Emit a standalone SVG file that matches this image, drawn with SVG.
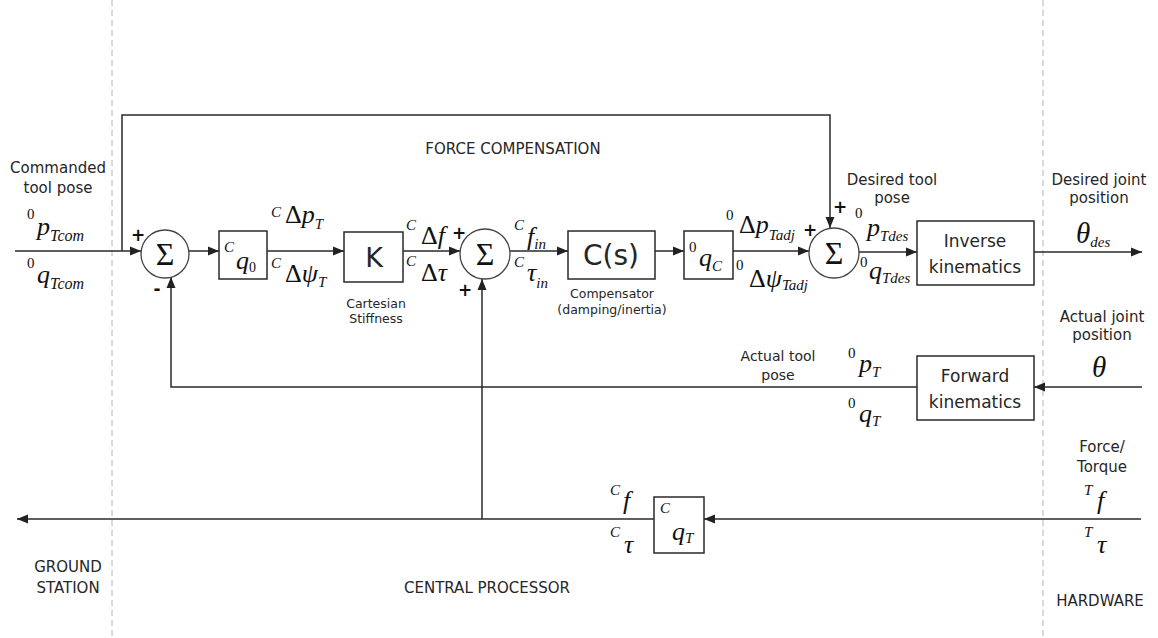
<svg xmlns="http://www.w3.org/2000/svg" width="1158" height="638" viewBox="0 0 1158 638">
<defs>
<marker id="ah" markerUnits="userSpaceOnUse" markerWidth="11" markerHeight="10" refX="11" refY="5" orient="auto">
<path d="M0,0.5 L11,5 L0,9.5 z" fill="#222"/>
</marker>
<style>
.ln{stroke:#2a2a2a;stroke-width:1.5;fill:none}
.box{fill:#fff;stroke:#2a2a2a;stroke-width:1.5}
.sum{fill:#fff;stroke:#444;stroke-width:1.3}
.dash{stroke:#b4b4b4;stroke-width:1;stroke-dasharray:6 4}
.lbl{font-family:"DejaVu Sans","Liberation Sans",sans-serif;font-size:15px;fill:#262626;text-anchor:middle}
.sm{font-size:12.5px}
.blk{font-size:17px}
.big{font-size:28px}
.m{font-family:"Liberation Serif",serif;font-style:italic;font-size:26px;fill:#111}
.th{font-size:29px}
.up{font-style:normal}
.sp{font-family:"Liberation Serif",serif;font-size:15px;fill:#111}
.spi{font-family:"Liberation Serif",serif;font-style:italic;font-size:15px;fill:#111}
.sb{font-size:15px}
.sbl{font-size:16px}
.sb0{font-size:14px;font-style:normal}
.sig{font-family:"Liberation Serif",serif;font-size:32px;fill:#111;text-anchor:middle}
.pm{font-family:"DejaVu Sans",sans-serif;font-weight:bold;font-size:17px;fill:#111;text-anchor:middle}
</style>
</defs>

<g id="regions">
<line class="dash" x1="112" y1="0" x2="112" y2="638"/>
<line class="dash" x1="1043" y1="0" x2="1043" y2="638"/>
<text class="lbl" x="513" y="154">FORCE COMPENSATION</text>
<text class="lbl" x="68" y="572">GROUND</text>
<text class="lbl" x="68" y="593">STATION</text>
<text class="lbl" x="487" y="593">CENTRAL PROCESSOR</text>
<text class="lbl" x="1100" y="606">HARDWARE</text>
</g>

<g id="connectors">
<line class="ln" x1="15" y1="251" x2="141" y2="251" marker-end="url(#ah)"/>
<polyline class="ln" points="122,251 122,115 830,115 830,228" marker-end="url(#ah)"/>
<line class="ln" x1="189" y1="251" x2="219" y2="251" marker-end="url(#ah)"/>
<line class="ln" x1="267" y1="251" x2="344" y2="251" marker-end="url(#ah)"/>
<line class="ln" x1="403" y1="251" x2="460" y2="251" marker-end="url(#ah)"/>
<line class="ln" x1="510" y1="251" x2="568" y2="251" marker-end="url(#ah)"/>
<line class="ln" x1="655" y1="251" x2="684" y2="251" marker-end="url(#ah)"/>
<line class="ln" x1="733" y1="251" x2="809" y2="251" marker-end="url(#ah)"/>
<line class="ln" x1="859" y1="252" x2="917" y2="252" marker-end="url(#ah)"/>
<line class="ln" x1="1034" y1="252" x2="1142" y2="252" marker-end="url(#ah)"/>
<line class="ln" x1="1142" y1="387" x2="1034" y2="387" marker-end="url(#ah)"/>
<polyline class="ln" points="917,387 171,387 171,277" marker-end="url(#ah)"/>
<line class="ln" x1="1141" y1="519" x2="704" y2="519" marker-end="url(#ah)"/>
<line class="ln" x1="654" y1="519" x2="17" y2="519" marker-end="url(#ah)"/>
<line class="ln" x1="482" y1="519" x2="482" y2="279" marker-end="url(#ah)"/>
</g>

<g id="input-labels">
<text class="lbl" x="58" y="173">Commanded</text>
<text class="lbl" x="58" y="193">tool pose</text>
<text class="sp" x="27" y="219">0</text>
<text class="m" x="37" y="235">p<tspan class="sbl" dy="6">Tcom</tspan></text>
<text class="sp" x="27" y="268">0</text>
<text class="m" x="37" y="283">q<tspan class="sbl" dy="6">Tcom</tspan></text>
</g>

<g id="sum1">
<circle class="sum" cx="165" cy="254" r="24"/>
<text class="sig" x="165" y="265">Σ</text>
<text class="pm" x="138" y="241">+</text>
<text class="pm" x="157" y="295">-</text>
</g>

<g id="q0">
<rect class="box" x="219" y="231" width="48" height="48"/>
<text class="spi" x="224" y="252">C</text>
<text class="m" x="236" y="269">q<tspan class="sb0" dy="3">0</tspan></text>
</g>

<g id="q0-labels">
<text class="spi" x="271" y="217">C</text>
<text class="m" x="285" y="223"><tspan class="up">Δ</tspan>p<tspan class="sb" dy="6">T</tspan></text>
<text class="spi" x="271" y="268">C</text>
<text class="m" x="285" y="282"><tspan class="up">Δ</tspan>ψ<tspan class="sb" dy="5">T</tspan></text>
</g>

<g id="K">
<rect class="box" x="344" y="232" width="59" height="50"/>
<text class="lbl" x="374" y="267" style="font-size:27px">K</text>
<text class="lbl sm" x="376" y="308">Cartesian</text>
<text class="lbl sm" x="376" y="323">Stiffness</text>
</g>

<g id="K-labels">
<text class="spi" x="406" y="230">C</text>
<text class="m" x="421" y="244"><tspan class="up">Δ</tspan>f</text>
<text class="spi" x="406" y="266">C</text>
<text class="m" x="421" y="281"><tspan class="up">Δ</tspan>τ</text>
</g>

<g id="sum2">
<circle class="sum" cx="485" cy="254" r="25"/>
<text class="sig" x="485" y="265">Σ</text>
<text class="pm" x="459" y="239">+</text>
<text class="pm" x="465" y="296">+</text>
</g>

<g id="sum2-labels">
<text class="spi" x="514" y="230">C</text>
<text class="m" x="527" y="245">f<tspan class="sb" dy="4">in</tspan></text>
<text class="spi" x="514" y="267">C</text>
<text class="m" x="527" y="281">τ<tspan class="sb" dy="7">in</tspan></text>
</g>

<g id="Cs">
<rect class="box" x="568" y="231" width="87" height="48"/>
<text class="lbl big" x="611" y="265">C(s)</text>
<text class="lbl sm" x="612" y="298">Compensator</text>
<text class="lbl sm" x="612" y="314">(damping/inertia)</text>
</g>

<g id="qC">
<rect class="box" x="684" y="231" width="49" height="48"/>
<text class="sp" x="689" y="252">0</text>
<text class="m" x="699" y="266">q<tspan class="sb" dy="5">C</tspan></text>
</g>

<g id="qC-labels">
<text class="sp" x="726" y="220">0</text>
<text class="m" x="739" y="233"><tspan class="up">Δ</tspan>p<tspan class="sb" dy="7">Tadj</tspan></text>
<text class="sp" x="736" y="270">0</text>
<text class="m" x="749" y="287"><tspan class="up">Δ</tspan>ψ<tspan class="sb" dy="3">Tadj</tspan></text>
</g>

<g id="sum3">
<circle class="sum" cx="834" cy="253" r="25"/>
<text class="sig" x="834" y="264">Σ</text>
<text class="pm" x="810" y="236">+</text>
<text class="pm" x="840" y="213">+</text>
</g>

<g id="sum3-labels">
<text class="lbl" x="892" y="185">Desired tool</text>
<text class="lbl" x="892" y="203">pose</text>
<text class="sp" x="855" y="218">0</text>
<text class="m" x="867" y="236">p<tspan class="sb" dy="5">Tdes</tspan></text>
<text class="sp" x="860" y="267">0</text>
<text class="m" x="869" y="279">q<tspan class="sb" dy="4">Tdes</tspan></text>
</g>

<g id="IK">
<rect class="box" x="917" y="221" width="117" height="64"/>
<text class="lbl blk" x="975" y="247">Inverse</text>
<text class="lbl blk" x="975" y="273">kinematics</text>
</g>

<g id="output-labels">
<text class="lbl" x="1099" y="185">Desired joint</text>
<text class="lbl" x="1099" y="203">position</text>
<text class="m th" x="1076" y="243">θ<tspan class="sb" dy="4">des</tspan></text>
</g>

<g id="FK">
<rect class="box" x="917" y="356" width="117" height="64"/>
<text class="lbl blk" x="975" y="382">Forward</text>
<text class="lbl blk" x="975" y="408">kinematics</text>
</g>

<g id="FK-labels">
<text class="lbl" x="1102" y="322">Actual joint</text>
<text class="lbl" x="1102" y="340">position</text>
<text class="m th" x="1092" y="377">θ</text>
<text class="lbl" x="778" y="361" style="font-size:14px">Actual tool</text>
<text class="lbl" x="778" y="380" style="font-size:14px">pose</text>
<text class="sp" x="848" y="358">0</text>
<text class="m" x="859" y="372">p<tspan class="sb" dy="5">T</tspan></text>
<text class="sp" x="848" y="408">0</text>
<text class="m" x="859" y="422">q<tspan class="sb" dy="4">T</tspan></text>
</g>

<g id="sensor-labels">
<text class="lbl" x="1102" y="452">Force/</text>
<text class="lbl" x="1102" y="472">Torque</text>
<text class="spi" x="1084" y="495">T</text>
<text class="m" x="1097" y="509">f</text>
<text class="spi" x="1084" y="537">T</text>
<text class="m" x="1097" y="553">τ</text>
</g>

<g id="qT">
<rect class="box" x="654" y="497" width="50" height="56"/>
<text class="spi" x="660" y="513">C</text>
<text class="m" x="672" y="540">q<tspan class="sb" dy="3">T</tspan></text>
<text class="spi" x="610" y="495">C</text>
<text class="m" x="623" y="509">f</text>
<text class="spi" x="610" y="537">C</text>
<text class="m" x="624" y="553">τ</text>
</g>
</svg>
